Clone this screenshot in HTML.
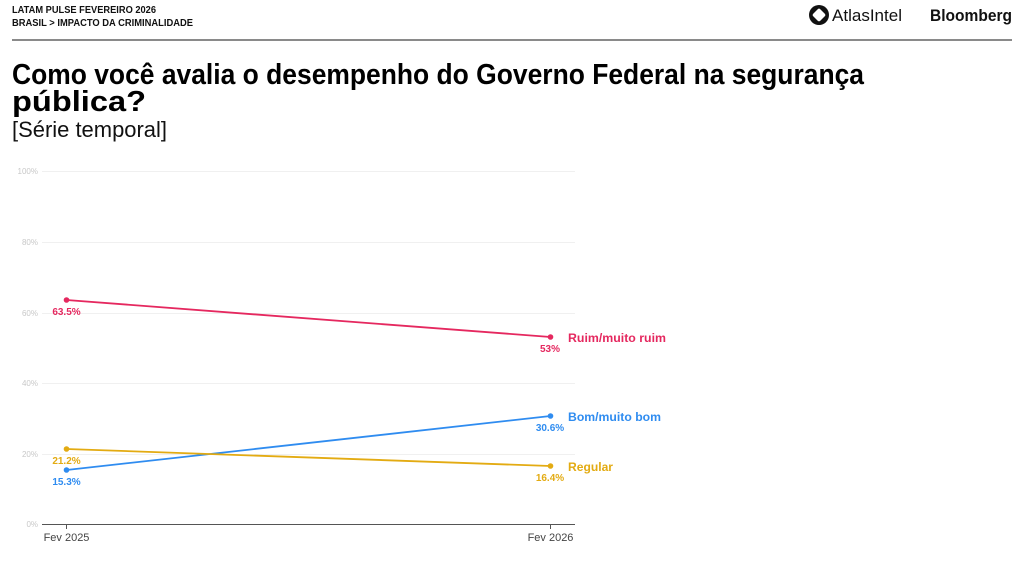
<!DOCTYPE html>
<html><head><meta charset="utf-8"><style>
html,body{margin:0;padding:0;background:#fff;}
svg{display:block;font-family:"Liberation Sans",sans-serif;}
</style></head><body>
<svg width="1028" height="565" viewBox="0 0 1028 565" xmlns="http://www.w3.org/2000/svg">
<rect width="1028" height="565" fill="#fff"/>
<!-- header -->
<text x="12" y="13" font-size="10" font-weight="bold" fill="#111" textLength="144" lengthAdjust="spacingAndGlyphs">LATAM PULSE FEVEREIRO 2026</text>
<text x="12" y="26" font-size="10" font-weight="bold" fill="#111" textLength="181" lengthAdjust="spacingAndGlyphs">BRASIL &gt; IMPACTO DA CRIMINALIDADE</text>
<circle cx="819" cy="15" r="10" fill="#111"/>
<rect x="814" y="10" width="10" height="10" rx="2" fill="#fff" transform="rotate(45 819 15)"/>
<text x="832" y="21" font-size="17" fill="#111" textLength="70" lengthAdjust="spacingAndGlyphs">AtlasIntel</text>
<text x="930" y="21" font-size="17" font-weight="bold" fill="#111" textLength="82" lengthAdjust="spacingAndGlyphs">Bloomberg</text>
<rect x="12" y="39" width="1000" height="2" fill="#8a8a8a"/>
<!-- title -->
<g transform="translate(12 84) scale(1 1.06)">
<text x="0" y="0" font-size="27.5" font-weight="bold" fill="#000" textLength="852" lengthAdjust="spacingAndGlyphs">Como você avalia o desempenho do Governo Federal na segurança</text>
</g>
<g transform="translate(12 111) scale(1 1.06)">
<text x="0" y="0" font-size="27.5" font-weight="bold" fill="#000" textLength="134" lengthAdjust="spacingAndGlyphs">pública?</text>
</g>
<text x="12" y="137" font-size="22" fill="#111" textLength="155" lengthAdjust="spacingAndGlyphs">[Série temporal]</text>
<!-- grid -->
<g stroke="#f0f0f0" stroke-width="1">
<line x1="42" y1="171.5" x2="575" y2="171.5"/>
<line x1="42" y1="242.5" x2="575" y2="242.5"/>
<line x1="42" y1="313.5" x2="575" y2="313.5"/>
<line x1="42" y1="383.5" x2="575" y2="383.5"/>
<line x1="42" y1="454.5" x2="575" y2="454.5"/>
</g>
<g font-size="8" fill="#c8c8c8" text-anchor="end">
<text x="38" y="174">100%</text>
<text x="38" y="245">80%</text>
<text x="38" y="316">60%</text>
<text x="38" y="386">40%</text>
<text x="38" y="457">20%</text>
<text x="38" y="527">0%</text>
</g>
<line x1="42" y1="524.5" x2="575" y2="524.5" stroke="#555" stroke-width="1"/>
<line x1="66.5" y1="524" x2="66.5" y2="529" stroke="#555" stroke-width="1"/>
<line x1="550.5" y1="524" x2="550.5" y2="529" stroke="#555" stroke-width="1"/>
<text x="66.5" y="541" font-size="11" fill="#444" text-anchor="middle">Fev 2025</text>
<text x="550.5" y="541" font-size="11" fill="#444" text-anchor="middle">Fev 2026</text>
<!-- series -->
<g stroke-width="1.8" fill="none">
<line x1="66.5" y1="300" x2="550.5" y2="337" stroke="#e5285f"/>
<line x1="66.5" y1="470" x2="550.5" y2="416" stroke="#2f8cf0"/>
<line x1="66.5" y1="449" x2="550.5" y2="466" stroke="#e3ab12"/>
</g>
<circle cx="66.5" cy="300" r="2.8" fill="#e5285f"/>
<circle cx="550.5" cy="337" r="2.8" fill="#e5285f"/>
<circle cx="66.5" cy="470" r="2.8" fill="#2f8cf0"/>
<circle cx="550.5" cy="416" r="2.8" fill="#2f8cf0"/>
<circle cx="66.5" cy="449" r="2.8" fill="#e3ab12"/>
<circle cx="550.5" cy="466" r="2.8" fill="#e3ab12"/>
<g font-size="10" font-weight="bold" text-anchor="middle">
<text x="66.5" y="315" fill="#e5285f">63.5%</text>
<text x="66.5" y="464" fill="#e3ab12">21.2%</text>
<text x="66.5" y="485" fill="#2f8cf0">15.3%</text>
<text x="550" y="352" fill="#e5285f">53%</text>
<text x="550" y="431" fill="#2f8cf0">30.6%</text>
<text x="550" y="481" fill="#e3ab12">16.4%</text>
</g>
<g font-size="12" font-weight="bold">
<text x="568" y="342" fill="#e5285f" textLength="98" lengthAdjust="spacingAndGlyphs">Ruim/muito ruim</text>
<text x="568" y="421" fill="#2f8cf0" textLength="93" lengthAdjust="spacingAndGlyphs">Bom/muito bom</text>
<text x="568" y="471" fill="#e3ab12" textLength="45" lengthAdjust="spacingAndGlyphs">Regular</text>
</g>
</svg>
</body></html>
